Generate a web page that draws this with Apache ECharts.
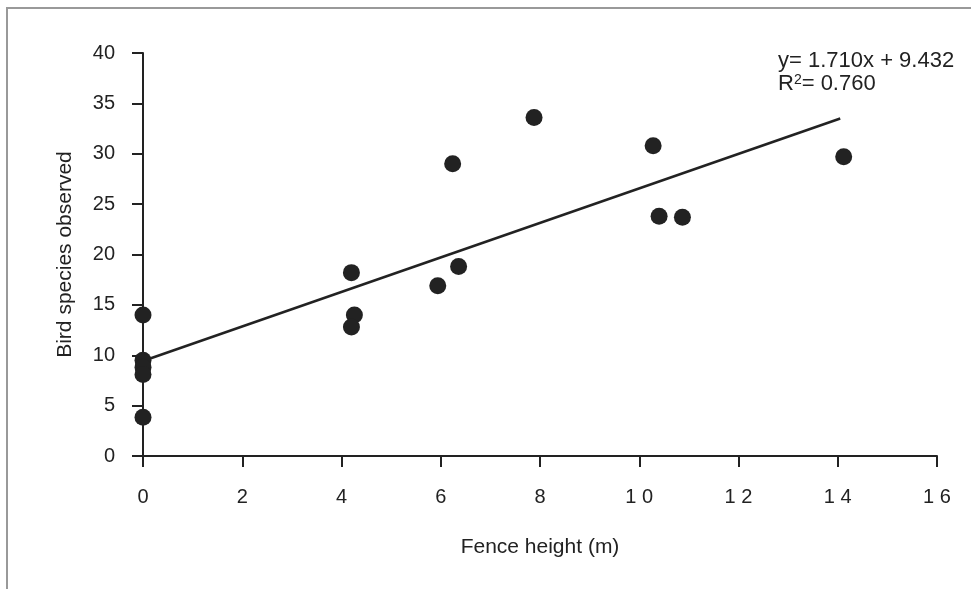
<!DOCTYPE html>
<html><head><meta charset="utf-8">
<script src="https://cdn.jsdelivr.net/npm/echarts@6/dist/echarts.min.js"></script>
<style>html,body{margin:0;padding:0;background:#fff}#c{width:971px;height:589px}</style>
</head><body><div id="c"></div>
<script>
const fenceHeight = [0, 0, 0, 0, 0, 4.2, 4.26, 4.2, 5.94, 6.24, 6.36, 7.88, 10.28, 10.4, 10.87, 14.12];
const birdSpecies = [14.0, 9.5, 8.8, 8.1, 3.85, 18.2, 14.0, 12.8, 16.9, 29.0, 18.8, 33.6, 30.8, 23.8, 23.7, 29.7];
const trendX = [0.1, 14.05];
const trendY = [9.6, 33.5];
const xTicks = ['0','2','4','6','8','1 0','1 2','1 4','1 6'];
const equationText = 'y= 1.710x + 9.432';
const r2Value = '0.760';

const chart = echarts.init(document.getElementById('c'));
const font = 'Liberation Sans, Arial, sans-serif';
chart.setOption({
  animation: false,
  grid: {left: 143, right: 34, top: 53, bottom: 133, outerBoundsMode: 'none', containLabel: false},
  xAxis: {
    type: 'value', min: 0, max: 16, interval: 2,
    name: 'Fence height (m)', nameLocation: 'middle', nameGap: 81,
    nameTextStyle: {fontFamily: font, fontSize: 21, color: '#222'},
    axisLine: {show: true, lineStyle: {color: '#222', width: 2}},
    axisTick: {show: true, length: 11, lineStyle: {color: '#222', width: 2}},
    axisLabel: {margin: 31, fontFamily: font, fontSize: 20, color: '#222',
      formatter: v => xTicks[Math.round(v / 2)]},
    splitLine: {show: false}
  },
  yAxis: {
    type: 'value', min: 0, max: 40, interval: 5,
    name: 'Bird species observed', nameLocation: 'middle', nameGap: 67,
    nameTextStyle: {fontFamily: font, fontSize: 21, color: '#222'},
    axisLine: {show: true, lineStyle: {color: '#222', width: 2}},
    axisTick: {show: true, length: 11, lineStyle: {color: '#222', width: 2}},
    axisLabel: {margin: 28, fontFamily: font, fontSize: 20, color: '#222'},
    splitLine: {show: false}
  },
  series: [
    {
      type: 'line', data: trendX.map((x, i) => [x, trendY[i]]),
      symbol: 'none', lineStyle: {color: '#222', width: 2.5}, z: 2
    },
    {
      type: 'scatter', data: fenceHeight.map((x, i) => [x, birdSpecies[i]]),
      symbol: 'circle', symbolSize: 17, itemStyle: {color: '#222', opacity: 1}, z: 3
    }
  ],
  graphic: [
    {type: 'rect', shape: {x: 7, y: 8, width: 1000, height: 700}, style: {fill: 'none', stroke: '#999', lineWidth: 2}, silent: true},
    {type: 'text', left: 778, top: 50, style: {text: equationText, font: '22px ' + font, fill: '#222'}},
    {type: 'text', left: 778, top: 73, style: {
      text: 'R{sup|2}= ' + r2Value, font: '22px ' + font, fill: '#222',
      rich: {sup: {fontSize: 14, fontFamily: font, fill: '#222', verticalAlign: 'top', padding: [0, 0, 8, 0]}}
    }}
  ]
});
</script></body></html>
